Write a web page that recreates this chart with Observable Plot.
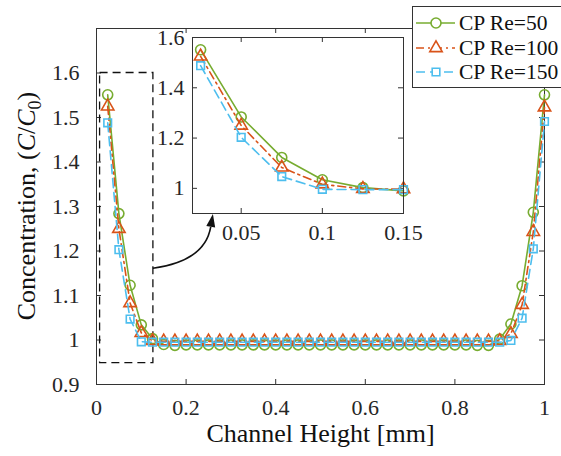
<!DOCTYPE html>
<html>
<head>
<meta charset="utf-8">
<script src="https://cdn.jsdelivr.net/npm/d3@7"></script>
<script src="https://cdn.jsdelivr.net/npm/@observablehq/plot@0.6"></script>
<style>
  body { margin: 0; background: white; }
  #wrap { position: relative; width: 561px; height: 456px; overflow: hidden; background: white; font-family: "Liberation Serif", "Times New Roman", serif; }
  #wrap svg { position: absolute; }
  #legend { position: absolute; left: 412px; top: 6px; width: 152px; height: 82px; border: 1px solid #333; background: white; box-sizing: border-box; }
  .lrow { position: absolute; left: 0; height: 24px; display: flex; align-items: center; white-space: nowrap; }
  .lrow svg { position: static !important; }
  .lrow span { font-size: 21.5px; color: #111; margin-left: 2px; line-height: 24px; white-space: nowrap; }
</style>
</head>
<body>
<div id="wrap"></div>
<script>
// ---- data ----
const heights = [0.025, 0.05, 0.075, 0.1, 0.125, 0.15, 0.175, 0.2, 0.225, 0.25,
  0.275, 0.3, 0.325, 0.35, 0.375, 0.4, 0.425, 0.45, 0.475, 0.5,
  0.525, 0.55, 0.575, 0.6, 0.625, 0.65, 0.675, 0.7, 0.725, 0.75,
  0.775, 0.8, 0.825, 0.85, 0.875, 0.9, 0.925, 0.95, 0.975, 1.0];
const re50 = [1.551, 1.284, 1.123, 1.034, 1.003, 0.990, 0.988, 0.989, 0.989, 0.989,
  0.989, 0.989, 0.989, 0.989, 0.989, 0.989, 0.989, 0.989, 0.989, 0.989,
  0.989, 0.989, 0.989, 0.989, 0.989, 0.989, 0.989, 0.989, 0.989, 0.989,
  0.989, 0.989, 0.989, 0.988, 0.988, 1.002, 1.036, 1.122, 1.287, 1.551];
const re100 = [1.525, 1.250, 1.083, 1.016, 0.998, 0.997, 0.997, 0.997, 0.997, 0.997,
  0.997, 0.997, 0.997, 0.997, 0.997, 0.997, 0.997, 0.997, 0.997, 0.997,
  0.997, 0.997, 0.997, 0.997, 0.997, 0.997, 0.997, 0.997, 0.997, 0.997,
  0.997, 0.997, 0.997, 0.997, 0.997, 0.998, 1.014, 1.079, 1.243, 1.523];
const re150 = [1.488, 1.203, 1.047, 0.996, 0.995, 0.995, 0.995, 0.995, 0.995, 0.995,
  0.995, 0.995, 0.995, 0.995, 0.995, 0.995, 0.995, 0.995, 0.995, 0.995,
  0.995, 0.995, 0.995, 0.995, 0.995, 0.995, 0.995, 0.995, 0.995, 0.995,
  0.995, 0.995, 0.995, 0.995, 0.995, 0.995, 0.999, 1.049, 1.205, 1.491];
const seriesNames = ["CP Re=50", "CP Re=100", "CP Re=150"];
const seriesColors = ["#77AC30", "#D95319", "#4DBEEE"];
const seriesSymbols = ["circle", "triangle", "square"];
const seriesDash = [null, "8,4,2,4", "9,5"];
const xTicks = [0, 0.2, 0.4, 0.6, 0.8, 1];
const yTicks = [0.9, 1, 1.1, 1.2, 1.3, 1.4, 1.5, 1.6];
const insetXTicks = [0.05, 0.1, 0.15];
const insetYTicks = [1, 1.2, 1.4, 1.6];
const zoomBox = [{x1: 0.008, x2: 0.127, y1: 0.948, y2: 1.6}];
const arrowStart = [0.127, 1.16];
const arrowCtrl = [0.243, 1.176];
const arrowEnd = [0.261, 1.282];

const seriesValues = [re50, re100, re150];
const data = seriesNames.map((name, i) => heights.map((h, j) => ({series: name, x: h, y: seriesValues[i][j]})));

const fmt = d => String(+d.toFixed(3));
const symR = {circle: 5, triangle: 4.6, square: 4.3};

function seriesMarks(filter) {
  const marks = [];
  data.forEach((rows, i) => {
    const r = filter ? rows.filter(filter) : rows;
    marks.push(Plot.line(r, {x: "x", y: "y", stroke: seriesColors[i], strokeWidth: 1.6, strokeDasharray: seriesDash[i] || undefined}));
    marks.push(Plot.dot(r, {x: "x", y: "y", symbol: seriesSymbols[i], r: symR[seriesSymbols[i]], stroke: seriesColors[i], strokeWidth: 1.6, fill: "none"}));
  });
  return marks;
}

function inwardTicks(xt, yt, W, H, len) {
  return [
    Plot.tickX(xt, {x: d => d, insetTop: H - len, stroke: "#333"}),
    Plot.tickX(xt, {x: d => d, insetBottom: H - len, stroke: "#333"}),
    Plot.tickY(yt, {y: d => d, insetRight: W - len, stroke: "#333"}),
    Plot.tickY(yt, {y: d => d, insetLeft: W - len, stroke: "#333"})
  ];
}

const wrap = document.getElementById("wrap");

// ---- main plot ----
const M = {left: 96, right: 17, top: 28, bottom: 72};
const W = 561, H = 456;
const pw = W - M.left - M.right, ph = H - M.top - M.bottom;
const main = Plot.plot({
  width: W, height: H,
  marginLeft: M.left, marginRight: M.right, marginTop: M.top, marginBottom: M.bottom,
  style: {background: "transparent", fontFamily: "Liberation Serif", fontSize: "22px", color: "#262626"},
  x: {domain: [0, 1]},
  y: {domain: [0.9, 1.7]},
  marks: [
    Plot.frame({stroke: "#333", strokeWidth: 1}),
    ...inwardTicks(xTicks, yTicks, pw, ph, 5),
    Plot.axisX({ticks: xTicks, tickSize: 0, tickPadding: 15, tickFormat: fmt, fontSize: 22, label: null}),
    Plot.axisY({ticks: yTicks, tickSize: 0, tickPadding: 17, tickFormat: fmt, fontSize: 22, label: null}),
    Plot.rect(zoomBox, {x1: "x1", x2: "x2", y1: "y1", y2: "y2", fill: "none", stroke: "#111", strokeWidth: 1.3, strokeDasharray: "8,5"}),
    ...seriesMarks(null),
    Plot.text(["Channel Height [mm]"], {frameAnchor: "bottom", dy: 57, fontSize: 26, fill: "#111"})
  ]
});
main.style.left = "0px"; main.style.top = "0px";
wrap.appendChild(main);

// y label with italic / subscript
{
  const sy = main.scale("y");
  const cy = sy.apply(1.3);
  const t = d3.select(main).append("text")
    .attr("transform", `translate(${M.left - 61},${cy}) rotate(-90)`)
    .attr("text-anchor", "middle")
    .attr("font-size", 26)
    .attr("fill", "#111");
  t.append("tspan").text("Concentration, (");
  t.append("tspan").attr("font-style", "italic").text("C");
  t.append("tspan").text("/");
  t.append("tspan").attr("font-style", "italic").text("C");
  t.append("tspan").attr("font-size", 18).attr("dy", 6).text("0");
  t.append("tspan").attr("dy", -6).text(")");
}

// curved arrow
{
  const sx = main.scale("x"), sy = main.scale("y");
  const p0 = [sx.apply(arrowStart[0]), sy.apply(arrowStart[1])];
  const p1 = [sx.apply(arrowCtrl[0]), sy.apply(arrowCtrl[1])];
  const p2 = [sx.apply(arrowEnd[0]), sy.apply(arrowEnd[1])];
  let dx = p2[0] - p1[0], dy = p2[1] - p1[1];
  const L = Math.hypot(dx, dy); dx /= L; dy /= L;
  const hl = 13, hw = 4.5;
  const base = [p2[0] - hl * dx, p2[1] - hl * dy];
  const g = d3.select(main).append("g");
  g.append("path").attr("d", `M${p0[0]},${p0[1]} Q${p1[0]},${p1[1]} ${base[0]},${base[1]}`)
    .attr("fill", "none").attr("stroke", "#111").attr("stroke-width", 1.6);
  g.append("path").attr("d", `M${p2[0]},${p2[1]} L${base[0] - hw * dy},${base[1] + hw * dx} L${base[0] + hw * dy},${base[1] - hw * dx} Z`)
    .attr("fill", "#111");
}

// ---- inset ----
const IM = {left: 45, right: 30, top: 5, bottom: 35};
const ipw = 211, iph = 176;
const inset = Plot.plot({
  width: ipw + IM.left + IM.right, height: iph + IM.top + IM.bottom,
  marginLeft: IM.left, marginRight: IM.right, marginTop: IM.top, marginBottom: IM.bottom,
  style: {background: "transparent", fontFamily: "Liberation Serif", fontSize: "22px", color: "#262626", overflow: "visible"},
  x: {domain: [0.02, 0.15]},
  y: {domain: [0.9, 1.6]},
  marks: [
    Plot.frame({fill: "white", stroke: "none"}),
    ...inwardTicks(insetXTicks, insetYTicks, ipw, iph, 5),
    Plot.axisX({ticks: insetXTicks, tickSize: 0, tickPadding: 11, tickFormat: fmt, fontSize: 22, label: null}),
    Plot.axisY({ticks: insetYTicks, tickSize: 0, tickPadding: 8, tickFormat: fmt, fontSize: 22, label: null}),
    ...seriesMarks(d => d.x <= 0.1501),
    Plot.frame({stroke: "#333", strokeWidth: 1})
  ]
});
inset.style.left = (192 - IM.left) + "px";
inset.style.top = (37 - IM.top) + "px";
wrap.appendChild(inset);

// ---- legend ----
const legend = document.createElement("div");
legend.id = "legend";
seriesNames.forEach((name, i) => {
  const row = document.createElement("div");
  row.className = "lrow";
  row.style.top = (4 + i * 24.5) + "px";
  const svg = d3.create("svg").attr("width", 44).attr("height", 24);
  svg.append("line").attr("x1", 3).attr("x2", 42).attr("y1", 12).attr("y2", 12)
    .attr("stroke", seriesColors[i]).attr("stroke-width", 1.6)
    .attr("stroke-dasharray", seriesDash[i] || null);
  const s = seriesSymbols[i];
  const rr = symR[s];
  const sym = {circle: d3.symbolCircle, triangle: d3.symbolTriangle, square: d3.symbolSquare}[s];
  svg.append("path").attr("transform", "translate(23,12)")
    .attr("d", d3.symbol(sym, Math.PI * rr * rr)())
    .attr("fill", "white").attr("stroke", seriesColors[i]).attr("stroke-width", 1.6);
  row.appendChild(svg.node());
  const sp = document.createElement("span");
  sp.textContent = name;
  row.appendChild(sp);
  legend.appendChild(row);
});
wrap.appendChild(legend);
</script>
</body>
</html>
